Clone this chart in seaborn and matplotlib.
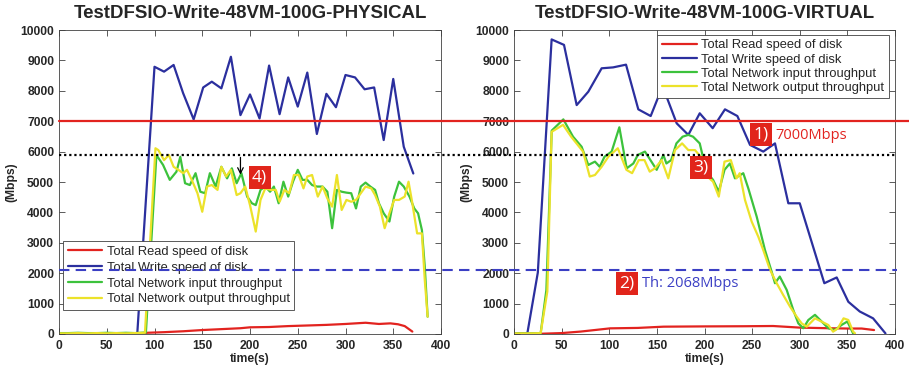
import matplotlib
matplotlib.use('Agg')
import matplotlib.pyplot as plt
import seaborn as sns
from matplotlib.lines import Line2D
from matplotlib import transforms

# ---------- PHYSICAL panel ----------
t_read_phys = [0, 20, 40, 60, 80, 92, 110, 130, 150, 170, 190, 200, 220, 240, 260, 280,
               300, 321, 335, 347, 355, 362, 370]
read_phys = [10, 10, 10, 10, 10, 40, 60, 90, 130, 160, 190, 220, 230, 260, 280, 300,
             330, 370, 330, 350, 320, 260, 80]

t_write_phys = [0, 10, 20, 30, 40, 50, 60, 70, 80, 82, 100, 110, 120, 130, 141, 151, 160, 170,
                180, 190, 200, 210, 220, 231, 240, 250, 260, 270, 280, 290, 300, 310, 320,
                330, 340, 350, 361, 371]
write_phys = [10, 10, 10, 10, 10, 10, 10, 10, 10, 30, 8790, 8630, 8850, 7920, 7060, 8110, 8300, 8080,
              9120, 7200, 7880, 7090, 8830, 7230, 8440, 7480, 8600, 6580, 7900, 7460, 8520, 8440, 8050,
              8110, 6380, 8390, 6160, 5280]

t_in_phys = [0, 10, 20, 30, 40, 50, 60, 70, 80, 91,
             102, 109, 116, 123, 127, 132, 137, 143, 148, 153,
             158, 164, 170, 176, 181, 186, 191, 197, 202, 206,
             211, 216, 221, 225, 230, 235, 240, 245, 250, 255,
             260, 265, 270, 276, 281, 286, 291, 296, 301, 306,
             311, 316, 321, 326, 331, 335, 340, 346, 351, 356,
             361, 367, 372, 376, 380, 383, 386]
in_phys = [30, 30, 40, 30, 30, 40, 30, 40, 30, 50,
           5890, 5560, 5070, 5340, 5830, 4960, 4900, 5290, 4680, 4630,
           5290, 4850, 5500, 5120, 5450, 4960, 5290, 4520, 4300, 4240,
           4740, 4850, 4680, 4850, 4300, 5010, 4520, 5010, 5400, 5070,
           5070, 4900, 4850, 4850, 4680, 3480, 4740, 4680, 4650, 4630,
           4130, 4850, 4980, 4850, 4740, 4300, 3970, 3700, 4520, 5010,
           4850, 4520, 4130, 3970, 3420, 2220, 570]

t_out_phys = [0, 10, 20, 30, 40, 50, 60, 70, 80, 90,
              101, 104, 110, 115, 120, 125, 130, 134, 139, 145,
              150, 155, 160, 166, 170, 175, 180, 186, 190, 195,
              200, 206, 211, 216, 222, 227, 231, 236, 241, 246,
              251, 256, 260, 265, 271, 276, 281, 286, 291, 296,
              301, 306, 311, 316, 321, 327, 331, 336, 341, 346,
              351, 356, 362, 366, 370, 375, 380, 383, 386]
out_phys = [20, 20, 30, 20, 30, 20, 30, 20, 30, 40,
            6110, 6050, 5720, 5890, 5500, 5400, 5290, 5400, 5070, 4630,
            4020, 4850, 4900, 4740, 5500, 5180, 5400, 4570, 4630, 4850,
            4240, 3370, 4410, 4790, 4740, 4740, 4350, 4740, 4630, 5230,
            5230, 4790, 5180, 5230, 4520, 4850, 4460, 4190, 5230, 4080,
            4410, 4350, 4410, 4630, 4850, 4790, 4570, 4190, 3480, 3970,
            4410, 4410, 4520, 5010, 4300, 3310, 3310, 1780, 570]

# ---------- VIRTUAL panel ----------
t_read_virt = [0, 20, 30, 50, 70, 101, 130, 157, 200, 240, 272, 300, 330, 350, 365, 378]
read_virt = [10, 10, 10, 30, 80, 186, 200, 241, 250, 255, 263, 210, 190, 180, 180, 130]

t_write_virt = [0, 14, 25, 39.5, 52.5, 65.8, 78, 92, 104, 117.6, 130.5, 143.5, 156, 170.8,
                183, 195, 208.6, 221.5, 234.5, 247.8, 261.7, 274, 288, 300, 325.8, 338.8,
                351, 363, 377, 390]
write_virt = [20, 20, 2020, 9690, 9510, 7530, 7970, 8740, 8770, 8860, 7390, 7170, 8150, 6930,
              6550, 7260, 6770, 7390, 7170, 6220, 6000, 6270, 4300, 4300, 1670, 1860,
              1060, 740, 515, 20]

t_in_virt = [0, 10, 20, 28, 34, 39.6, 51.8, 62, 71, 78,
             85, 90, 95, 102.5, 110.6, 118.3, 125.3, 130, 137.5, 141,
             149.8, 156.8, 160, 165, 170.5, 177, 183, 188, 195, 202,
             209, 215, 221, 226.6, 232, 240.7, 246, 254.8, 263.5, 270.5,
             274, 279, 286.3, 293.2, 298.5, 303.7, 309, 316, 323, 330,
             337, 344, 350, 356]
in_virt = [20, 20, 20, 30, 1450, 6690, 7060, 6490, 6160, 5560,
           5670, 5500, 5830, 6000, 6800, 5450, 5610, 5890, 6000, 5830,
           5400, 5890, 5610, 5720, 6270, 6490, 6550, 6490, 6270, 5340,
           5070, 4680, 5400, 5610, 5120, 5290, 4790, 3860, 2760, 2050,
           1670, 1890, 1450, 790, 350, 190, 460, 630, 410, 190,
           130, 300, 410, 20]

t_out_virt = [0, 10, 20, 28, 35, 39.5, 51.5, 60, 72.5, 79.5,
              85, 92, 99, 109, 118, 124, 131, 137, 142.5, 148,
              155, 162, 169, 176.5, 183, 190, 196, 203, 209, 215,
              221, 227.6, 233.6, 237, 242.5, 249.5, 256.5, 261.7, 268.8, 275.8,
              282.7, 289.8, 296.8, 302, 307.3, 316, 323, 330, 335, 340,
              346, 351, 356, 358]
out_virt = [20, 20, 20, 30, 1400, 6650, 6880, 6490, 6000, 5180,
            5230, 5500, 5830, 6110, 5400, 5290, 5720, 5720, 5340, 5450,
            5720, 5120, 6050, 6270, 6050, 6050, 5830, 5180, 5010, 4520,
            5670, 5720, 5120, 5290, 4410, 3700, 3200, 2760, 2110, 1670,
            1280, 900, 570, 350, 240, 515, 406, 296, 77, 186,
            515, 461, 77, 22]

labels = ['Total Read speed of disk', 'Total Write speed of disk',
          'Total Network input throughput', 'Total Network output throughput']
x_ticks = list(range(0, 401, 50))
y_ticks = list(range(0, 10001, 1000))

RED = '#e2231f'
BLUE = '#2b2f9e'
GREEN = '#3cc23c'
YELLOW = '#ece22a'
BOX = '#e1251b'

sns.set_style('ticks')
plt.rcParams['font.family'] = ['Liberation Sans', 'DejaVu Sans']


def draw_panel(ax, title, series):
    for (t, v), lab, col in zip(series, labels, [RED, BLUE, GREEN, YELLOW]):
        sns.lineplot(x=t, y=v, ax=ax, color=col, lw=1.6, label=lab, sort=False)
    ax.set_xlim(0, 400)
    ax.set_ylim(0, 10000)
    ax.set_xticks(x_ticks)
    ax.set_yticks(y_ticks)
    ax.tick_params(direction='in', top=True, right=True, length=4, width=0.6,
                   labelsize=8.7, color='#404040')
    ax.tick_params(axis='x', pad=4.5)
    ax.tick_params(axis='y', pad=3.5)
    for lbl in ax.get_xticklabels() + ax.get_yticklabels():
        lbl.set_fontweight('bold')
    for sp in ax.spines.values():
        sp.set_linewidth(0.6)
        sp.set_color('#404040')
    ax.set_title(title, fontsize=13.4, fontweight='bold', pad=9)
    ax.set_xlabel('time(s)', fontsize=8.7, fontweight='bold')
    ax.set_ylabel('(Mbps)', fontsize=8.7, fontweight='bold')
    ax.xaxis.set_label_coords(0.5, -0.062)
    ax.yaxis.set_label_coords(-0.11, 0.5)


def red_box(ax, x, y, s):
    ax.text(x, y, s, color='white', fontsize=12.5, ha='center', va='center',
            family='Open Sans', zorder=10,
            bbox=dict(boxstyle='square,pad=0.2', fc=BOX, ec='none'))


fig = plt.figure(figsize=(9.09, 3.71), dpi=100)
ax1 = fig.add_axes([59 / 909, 1 - 334 / 371, 382 / 909, 304 / 371])
ax2 = fig.add_axes([514 / 909, 1 - 334 / 371, 381 / 909, 304 / 371])

draw_panel(ax1, 'TestDFSIO-Write-48VM-100G-PHYSICAL',
           [(t_read_phys, read_phys), (t_write_phys, write_phys),
            (t_in_phys, in_phys), (t_out_phys, out_phys)])
draw_panel(ax2, 'TestDFSIO-Write-48VM-100G-VIRTUAL',
           [(t_read_virt, read_virt), (t_write_virt, write_virt),
            (t_in_virt, in_virt), (t_out_virt, out_virt)])

leg_kw = dict(fontsize=9.3, frameon=True, fancybox=False, handlelength=2.7,
              handletextpad=0.35, borderaxespad=0, borderpad=0.35)
l1 = ax1.legend(loc='lower left', bbox_to_anchor=(0.0105, 0.079), labelspacing=0.3, **leg_kw)
l2 = ax2.legend(loc='upper right', bbox_to_anchor=(0.984, 0.984), labelspacing=0.16, **leg_kw)
for lg in (l1, l2):
    lg.get_frame().set_edgecolor('#404040')
    lg.get_frame().set_linewidth(0.6)
    lg.get_frame().set_alpha(1)

# threshold lines running across both panels
trans = transforms.blended_transform_factory(fig.transFigure, ax1.transData)
fig.add_artist(Line2D([59 / 909, 1.0], [7000, 7000], transform=trans, color=RED, lw=1.6, zorder=5))
fig.add_artist(Line2D([59 / 909, 897 / 909], [5900, 5900], transform=trans, color='black',
                      lw=1.6, ls=(0, (1, 1.3)), zorder=5))
fig.add_artist(Line2D([59 / 909, 897 / 909], [2100, 2100], transform=trans, color='#3b3fc4',
                      lw=1.5, ls=(0, (5, 3)), zorder=5))

# annotations
ax1.annotate('', xy=(190, 5150), xytext=(190, 5900),
             arrowprops=dict(arrowstyle='->', color='black', lw=0.9))
red_box(ax1, 210, 5150, '4)')
red_box(ax2, 259, 6550, '1)')
ax2.text(274, 6520, '7000Mbps', color=RED, fontsize=10.5, family='Open Sans',
         ha='left', va='center')
red_box(ax2, 196, 5480, '3)')
red_box(ax2, 118.6, 1660, '2)')
ax2.text(134, 1660, 'Th: 2068Mbps', color='#3b3fc4', fontsize=10.5, family='Open Sans',
         ha='left', va='center')

fig.savefig('out.png', dpi=100)
